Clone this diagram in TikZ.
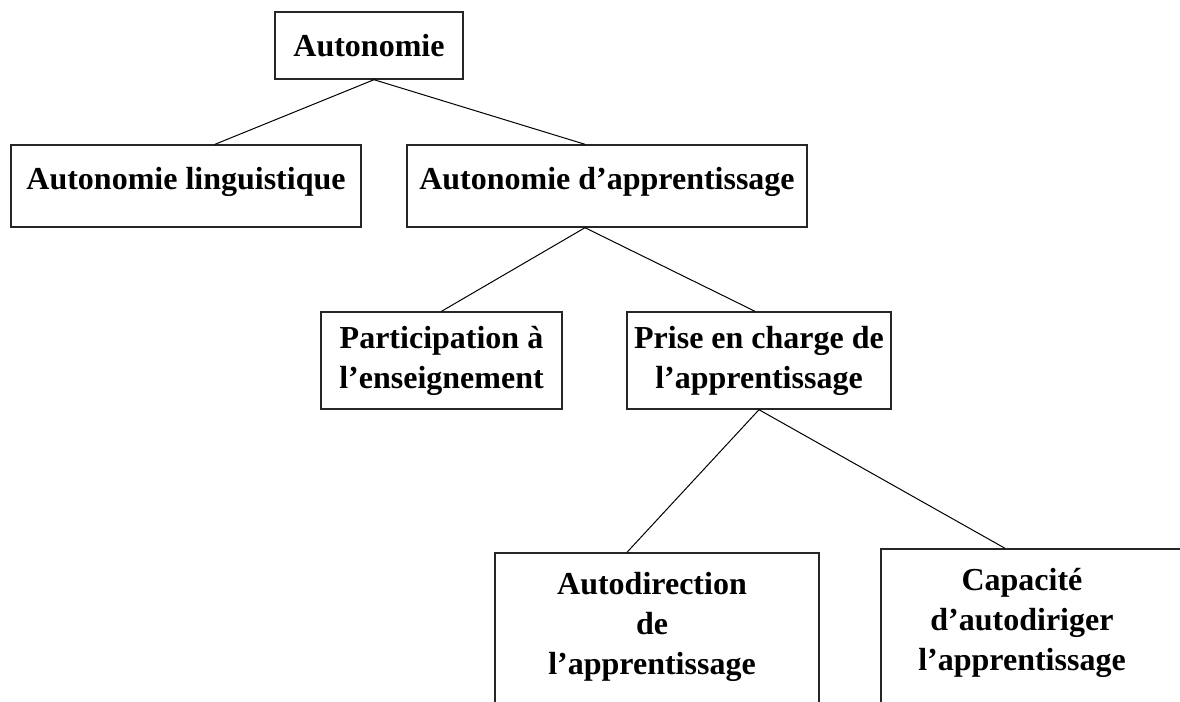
\documentclass[tikz,border=0pt]{standalone}
\usepackage{fontspec}
\setmainfont{Liberation Serif}
\begin{document}
\begin{tikzpicture}[x=0.5pt,y=-0.5pt]
\tikzset{box/.style={draw=black!85, line width=0.7pt, inner sep=0pt, align=center, font=\fontsize{16}{20}\selectfont\bfseries}}
\tikzset{boxtext/.style={inner sep=0pt, align=center, font=\fontsize{16}{20}\selectfont\bfseries}}
\tikzset{edge/.style={line width=0.5pt}}
\useasboundingbox (0,0) rectangle (1180,702);
\clip (0,0) rectangle (1180,702);
\node[box, minimum width=94pt, minimum height=33.5pt] (auto) at (369,45.5) {Autonomie};
\node[box, minimum width=175pt, minimum height=41pt, text depth=8pt] (ling) at (186,186) {Autonomie linguistique};
\node[box, minimum width=200pt, minimum height=41pt, text depth=8pt] (appr) at (607,186) {Autonomie d’apprentissage};
\node[box, minimum width=120.5pt, minimum height=48.5pt] (part) at (441.5,360.5) {Participation à\\l’enseignement};
\node[box, minimum width=132pt, minimum height=48.5pt] (prise) at (759,360.5) {Prise en charge de\\l’apprentissage};
\node[box, minimum width=162pt, minimum height=90pt] (autodir) at (657,643) {};
\node[boxtext] (autodirtext) at (652,627) {Autodirection\\de\\l’apprentissage};
\node[box, minimum width=160pt, minimum height=90pt] (capa) at (1041,639) {};
\node[boxtext] (capatext) at (1022,623) {Capacité\\d’autodiriger\\l’apprentissage};
\draw[edge] ([xshift=2.5pt]auto.south) -- ([xshift=14.5pt]ling.north);
\draw[edge] ([xshift=2.5pt]auto.south) -- ([xshift=-11pt]appr.north);
\draw[edge] ([xshift=-11pt]appr.south) -- (part.north);
\draw[edge] ([xshift=-11pt]appr.south) -- ([xshift=-2pt]prise.north);
\draw[edge] (prise.south) -- ([xshift=-15pt]autodir.north);
\draw[edge] (prise.south) -- ([xshift=-18pt]capa.north);
\end{tikzpicture}
\end{document}
